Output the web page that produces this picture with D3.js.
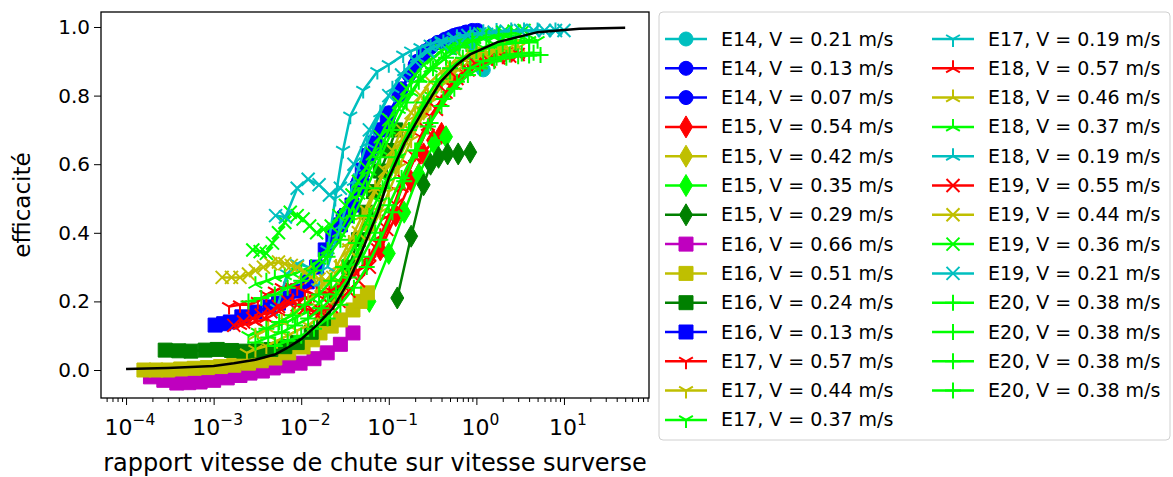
<!DOCTYPE html>
<html>
<head>
<meta charset="utf-8">
<script src="https://cdn.jsdelivr.net/npm/d3@7"></script>
<style>
body { margin: 0; background: #fff; }
text { font-family: "DejaVu Sans", sans-serif; fill: #000; }
</style>
</head>
<body>
<svg width="1173" height="477"></svg>
<script>
// --- data: [ratio, efficiency] ---
var e14_021 = [[0.55,0.94],[0.85,0.95],[1.2,0.875]];
var e14_013 = [[0.03,0.45],[0.045,0.55],[0.06,0.62],[0.08,0.7],[0.1,0.75],[0.13,0.8],[0.17,0.86],[0.21,0.9],[0.26,0.93],[0.31,0.945],[0.36,0.955],[0.43,0.963],[0.5,0.97],[0.6,0.978],[0.75,0.985],[0.88,0.988],[1.03,0.99]];
var e14_007 = [[0.05,0.55],[0.07,0.65],[0.1,0.74],[0.14,0.82],[0.2,0.89],[0.25,0.92],[0.3,0.94],[0.37,0.955],[0.45,0.965],[0.55,0.975],[0.65,0.98],[0.78,0.985],[0.9,0.99]];
var e15_054 = [[0.08,0.35],[0.12,0.45],[0.18,0.55],[0.25,0.63],[0.32,0.67],[0.4,0.69]];
var e15_042 = [[0.03,0.25],[0.06,0.42],[0.12,0.6],[0.25,0.76],[0.5,0.86],[1,0.91],[2,0.93]];
var e15_035 = [[0.06,0.2],[0.1,0.34],[0.15,0.46],[0.22,0.57],[0.33,0.66],[0.45,0.68]];
var e15_029 = [[0.125,0.21],[0.18,0.39],[0.25,0.54],[0.3,0.6],[0.37,0.62],[0.47,0.63],[0.62,0.63],[0.85,0.635]];
var e16_066 = [[1.9e-4,-0.02],[2.7e-4,-0.03],[3.8e-4,-0.038],[5.2e-4,-0.037],[7e-4,-0.035],[1e-3,-0.03],[1.43e-3,-0.023],[2e-3,-0.016],[2.6e-3,-0.009],[3.6e-3,-0.003],[4.8e-3,0.006],[7e-3,0.012],[9.7e-3,0.02],[1.4e-2,0.033],[1.98e-2,0.05],[2.8e-2,0.075],[3.9e-2,0.108]];
var e16_051 = [[1.6e-4,0.0],[2.2e-4,0.0],[3e-4,0.0],[4.2e-4,0.003],[6e-4,0.005],[8.5e-4,0.007],[1.2e-3,0.01],[1.7e-3,0.014],[2.5e-3,0.02],[3.5e-3,0.027],[5e-3,0.035],[7.2e-3,0.05],[1.05e-2,0.067],[1.35e-2,0.088],[1.64e-2,0.108],[2.2e-2,0.128],[2.8e-2,0.146],[3.9e-2,0.175],[4.7e-2,0.2],[5.7e-2,0.225]];
var e16_024 = [[2.8e-4,0.058],[4e-4,0.056],[5.5e-4,0.055],[8e-4,0.058],[1.1e-3,0.06],[1.6e-3,0.057],[2.2e-3,0.055],[3.2e-3,0.056],[4.5e-3,0.06],[6.5e-3,0.068],[9e-3,0.08],[1.3e-2,0.11],[1.8e-2,0.15],[2.5e-2,0.22],[3.5e-2,0.3],[4.5e-2,0.38],[5.5e-2,0.46],[6.7e-2,0.52],[8e-2,0.58],[0.1,0.64],[0.12,0.7]];
var e16_013 = [[1.04e-3,0.131],[1.3e-3,0.135],[1.55e-3,0.14],[2.1e-3,0.155],[2.98e-3,0.169],[4.4e-3,0.184],[5.5e-3,0.195],[6.9e-3,0.21],[9e-3,0.23],[1.17e-2,0.257],[1.5e-2,0.3],[1.88e-2,0.35],[2.3e-2,0.39],[2.8e-2,0.423],[3.3e-2,0.45],[3.8e-2,0.481],[4.4e-2,0.53],[4.98e-2,0.583],[5.9e-2,0.625],[7e-2,0.662],[8.2e-2,0.7],[9.6e-2,0.729]];
var e17_057 = [[1.5e-3,0.185],[2e-3,0.19],[2.5e-3,0.19],[3.2e-3,0.2],[4e-3,0.22],[5e-3,0.23],[6e-3,0.24],[7.5e-3,0.245],[9e-3,0.24],[1.1e-2,0.23],[1.4e-2,0.22],[1.8e-2,0.225],[2.2e-2,0.23],[2.8e-2,0.25],[3.5e-2,0.27],[4.5e-2,0.29],[6e-2,0.32],[7.5e-2,0.37],[0.1,0.44],[0.13,0.52],[0.17,0.6],[0.23,0.68],[0.3,0.74],[0.4,0.79],[0.5,0.83],[0.7,0.87],[0.9,0.89],[1.2,0.9],[1.5,0.91],[2,0.915],[2.5,0.92]];
var e17_044 = [[2.4e-3,0.05],[3e-3,0.06],[4e-3,0.07],[5.3e-3,0.085],[7e-3,0.1],[9e-3,0.115],[1.2e-2,0.13],[1.6e-2,0.155],[2e-2,0.18],[2.7e-2,0.22],[3.5e-2,0.27],[4.5e-2,0.33],[6e-2,0.4],[8e-2,0.46],[0.1,0.52],[0.13,0.59],[0.18,0.67],[0.23,0.73],[0.3,0.78],[0.4,0.83],[0.5,0.86],[0.7,0.885],[0.9,0.9],[1.2,0.915],[1.6,0.93],[2.2,0.935],[3,0.94]];
var e17_037 = [[2.5e-3,0.1],[3.2e-3,0.11],[4e-3,0.12],[5.5e-3,0.13],[7e-3,0.14],[9e-3,0.155],[1.2e-2,0.17],[1.6e-2,0.195],[2e-2,0.22],[2.7e-2,0.26],[3.5e-2,0.3],[4.5e-2,0.35],[6e-2,0.42],[8e-2,0.49],[0.1,0.55],[0.13,0.62],[0.18,0.7],[0.23,0.76],[0.3,0.8],[0.4,0.84],[0.5,0.87],[0.7,0.9],[0.9,0.92],[1.2,0.94],[1.6,0.95],[2.2,0.955],[3,0.96],[4,0.96],[5,0.96]];
var e17_019 = [[5.3e-3,0.18],[6.9e-3,0.28],[9e-3,0.31],[1.2e-2,0.3],[1.56e-2,0.24],[2e-2,0.35],[2.45e-2,0.5],[3e-2,0.64],[3.63e-2,0.74],[5.1e-2,0.815],[7.4e-2,0.87],[0.1,0.89],[0.146,0.918],[0.18,0.93],[0.23,0.94],[0.3,0.95],[0.4,0.96],[0.55,0.97],[0.7,0.975],[1,0.98],[1.3,0.985]];
var e18_057 = [[2e-3,0.13],[3e-3,0.14],[4e-3,0.15],[5.5e-3,0.17],[8e-3,0.2],[1.1e-2,0.21],[1.5e-2,0.22],[2.1e-2,0.23],[3e-2,0.25],[4.2e-2,0.28],[6e-2,0.33],[8e-2,0.39],[0.1,0.45],[0.14,0.53],[0.2,0.62],[0.28,0.71],[0.4,0.78],[0.56,0.83],[0.8,0.87],[1.1,0.89],[1.5,0.91],[2.1,0.915],[3,0.92]];
var e18_046 = [[3e-3,0.1],[4.2e-3,0.12],[6e-3,0.14],[8.5e-3,0.17],[1.2e-2,0.2],[1.7e-2,0.24],[2.5e-2,0.3],[3.5e-2,0.37],[5e-2,0.45],[7e-2,0.53],[0.1,0.6],[0.14,0.67],[0.2,0.74],[0.28,0.8],[0.4,0.85],[0.56,0.88],[0.8,0.91],[1.1,0.92],[1.5,0.93],[2.1,0.935],[3,0.94]];
var e18_037 = [[3e-3,0.25],[4e-3,0.26],[5e-3,0.27],[6.5e-3,0.275],[8e-3,0.28],[1e-2,0.29],[1.3e-2,0.3],[1.6e-2,0.32],[2e-2,0.35],[2.7e-2,0.4],[3.5e-2,0.45],[4.5e-2,0.51],[6e-2,0.58],[8e-2,0.64],[0.1,0.7],[0.13,0.76],[0.18,0.81],[0.23,0.85],[0.3,0.88],[0.4,0.91],[0.5,0.93],[0.7,0.95],[0.9,0.96],[1.2,0.965],[1.6,0.97],[2.2,0.972],[3,0.975]];
var e18_019 = [[0.02,0.3],[0.028,0.42],[0.04,0.55],[0.056,0.66],[0.08,0.75],[0.11,0.82],[0.15,0.87],[0.21,0.91],[0.3,0.94],[0.42,0.955],[0.6,0.97],[0.85,0.978],[1.2,0.985],[1.7,0.988],[2.5,0.99],[3.5,0.99],[5,0.99],[8,0.99]];
var e19_055 = [[1.7e-3,0.13],[2.2e-3,0.14],[2.8e-3,0.15],[3.5e-3,0.16],[4.5e-3,0.17],[5.5e-3,0.185],[7e-3,0.2],[9e-3,0.19],[1.1e-2,0.18],[1.4e-2,0.17],[1.7e-2,0.17],[2.2e-2,0.185],[2.7e-2,0.2],[3.5e-2,0.23],[4.5e-2,0.26],[6e-2,0.3],[7.5e-2,0.35],[9.5e-2,0.41],[0.12,0.48],[0.15,0.55],[0.2,0.62],[0.27,0.7],[0.35,0.76],[0.45,0.81],[0.6,0.85],[0.8,0.875],[1,0.89],[1.4,0.9],[1.8,0.91],[2.4,0.915],[3,0.92]];
var e19_044 = [[1.25e-3,0.27],[1.6e-3,0.27],[2e-3,0.27],[2.5e-3,0.28],[3e-3,0.29],[3.7e-3,0.3],[4.5e-3,0.31],[5.5e-3,0.315],[6.5e-3,0.31],[7.7e-3,0.305],[9e-3,0.3],[1.1e-2,0.285],[1.3e-2,0.27],[1.6e-2,0.265],[1.9e-2,0.26],[2.3e-2,0.27],[2.8e-2,0.3],[3.5e-2,0.35],[4.5e-2,0.4],[5.6e-2,0.46],[7e-2,0.52],[9e-2,0.58],[0.11,0.64],[0.14,0.7],[0.18,0.75],[0.23,0.8],[0.3,0.84],[0.4,0.87],[0.5,0.89],[0.7,0.91],[0.9,0.92],[1.2,0.925],[1.6,0.93],[2.5,0.93]];
var e19_036 = [[2.8e-3,0.35],[3.4e-3,0.345],[4e-3,0.34],[4.7e-3,0.37],[5.5e-3,0.4],[6.5e-3,0.43],[7.5e-3,0.46],[9e-3,0.45],[1.05e-2,0.44],[1.25e-2,0.42],[1.5e-2,0.4],[1.8e-2,0.41],[2.2e-2,0.42],[2.7e-2,0.45],[3.2e-2,0.48],[3.8e-2,0.51],[4.5e-2,0.55],[5.5e-2,0.59],[6.5e-2,0.63],[8e-2,0.68],[0.1,0.73],[0.13,0.78],[0.16,0.82],[0.2,0.86],[0.25,0.89],[0.32,0.91],[0.4,0.93],[0.55,0.95],[0.7,0.96],[0.95,0.97],[1.2,0.98],[1.6,0.982],[2,0.985],[2.7,0.988],[3.5,0.99]];
var e19_021 = [[5.1e-3,0.45],[6.6e-3,0.446],[9e-3,0.53],[1.2e-2,0.556],[1.6e-2,0.54],[2.1e-2,0.51],[2.8e-2,0.53],[4e-2,0.6],[6e-2,0.7],[0.1,0.8],[0.14,0.86],[0.2,0.9],[0.28,0.93],[0.4,0.95],[0.56,0.965],[0.8,0.975],[1.1,0.98],[1.6,0.985],[2.2,0.988],[3.2,0.99],[4.5,0.99],[6,0.99],[8,0.99],[10,0.99]];
var e20_a = [[3e-3,0.08],[4.2e-3,0.095],[6e-3,0.11],[8.5e-3,0.13],[1.2e-2,0.15],[1.7e-2,0.18],[2.5e-2,0.22],[3.5e-2,0.27],[5e-2,0.33],[7e-2,0.4],[0.1,0.48],[0.14,0.56],[0.2,0.64],[0.28,0.71],[0.4,0.77],[0.56,0.82],[0.8,0.86],[1.1,0.88],[1.6,0.9],[2.2,0.91],[3,0.915],[4,0.917],[5.4,0.918]];
var e20_b = [[4e-3,0.12],[5.6e-3,0.14],[8e-3,0.16],[1.1e-2,0.19],[1.6e-2,0.22],[2.2e-2,0.26],[3e-2,0.3],[4.2e-2,0.37],[6e-2,0.45],[8.5e-2,0.53],[0.12,0.62],[0.17,0.7],[0.25,0.78],[0.35,0.84],[0.5,0.88],[0.7,0.91],[1,0.93],[1.4,0.94],[2,0.95],[2.8,0.953],[4,0.955]];
var e20_c = [[2.5e-3,0.2],[3.5e-3,0.21],[5e-3,0.22],[7e-3,0.24],[1e-2,0.26],[1.4e-2,0.29],[2e-2,0.33],[2.8e-2,0.38],[4e-2,0.45],[5.6e-2,0.53],[8e-2,0.62],[0.11,0.7],[0.16,0.78],[0.22,0.84],[0.32,0.88],[0.45,0.91],[0.64,0.94],[0.9,0.96],[1.3,0.97],[1.8,0.975],[2.5,0.98]];
var e20_d = [[5e-3,0.07],[7e-3,0.085],[1e-2,0.1],[1.4e-2,0.12],[2e-2,0.15],[2.8e-2,0.19],[4e-2,0.24],[5.6e-2,0.3],[8e-2,0.38],[0.11,0.46],[0.15,0.55],[0.21,0.64],[0.3,0.72],[0.42,0.79],[0.6,0.84],[0.85,0.88],[1.2,0.9],[1.7,0.91],[2.4,0.92],[3.3,0.923],[4.5,0.925]];

// fitted curve (black)
var fitX = [1e-4,3e-4,1e-3,1.7e-3,3e-3,5e-3,7e-3,1e-2,1.5e-2,2.3e-2,3.5e-2,5e-2,7.5e-2,0.1,0.15,0.25,0.39,0.6,0.85,1.74,5,15,50];
var fitY = [0.003,0.006,0.012,0.02,0.03,0.045,0.065,0.09,0.13,0.18,0.26,0.35,0.46,0.56,0.66,0.76,0.84,0.89,0.92,0.956,0.985,0.995,0.998];

var labels = ["E14, V = 0.21 m/s","E14, V = 0.13 m/s","E14, V = 0.07 m/s",
  "E15, V = 0.54 m/s","E15, V = 0.42 m/s","E15, V = 0.35 m/s","E15, V = 0.29 m/s",
  "E16, V = 0.66 m/s","E16, V = 0.51 m/s","E16, V = 0.24 m/s","E16, V = 0.13 m/s",
  "E17, V = 0.57 m/s","E17, V = 0.44 m/s","E17, V = 0.37 m/s","E17, V = 0.19 m/s",
  "E18, V = 0.57 m/s","E18, V = 0.46 m/s","E18, V = 0.37 m/s","E18, V = 0.19 m/s",
  "E19, V = 0.55 m/s","E19, V = 0.44 m/s","E19, V = 0.36 m/s","E19, V = 0.21 m/s",
  "E20, V = 0.38 m/s","E20, V = 0.38 m/s","E20, V = 0.38 m/s","E20, V = 0.38 m/s"];
var seriesData = [e14_021,e14_013,e14_007,e15_054,e15_042,e15_035,e15_029,
  e16_066,e16_051,e16_024,e16_013,e17_057,e17_044,e17_037,e17_019,
  e18_057,e18_046,e18_037,e18_019,e19_055,e19_044,e19_036,e19_021,
  e20_a,e20_b,e20_c,e20_d];

var yTicks = [0.0, 0.2, 0.4, 0.6, 0.8, 1.0];
var xTicks = [-4, -3, -2, -1, 0, 1];

// styles (matplotlib-ish colours)
var C = {c: "#00bfbf", b: "#0000ff", r: "#ff0000", y: "#bfbf00", l: "#00ff00", g: "#008000", m: "#bf00bf"};
var colors = ["c","b","b","r","y","l","g","m","y","g","b","r","y","l","c","r","y","l","c","r","y","l","c","l","l","l","l"];
var markers = ["o","o","o","d","d","d","d","s","s","s","s","1","1","1","1","2","2","2","2","x","x","x","x","+","+","+","+"];

function markerPath(t) {
	if (t == "o") return d3.symbol(d3.symbolCircle, Math.PI * 49)();
	if (t == "s") return "M-7,-7H7V7H-7Z";
	if (t == "d") return "M0,-11L6.5,0L0,11L-6.5,0Z";
	if (t == "1") return "M0,0V8M0,0L-6.9,-4M0,0L6.9,-4";
	if (t == "2") return "M0,0V-8M0,0L-6.9,4M0,0L6.9,4";
	if (t == "x") return "M-6.5,-6.5L6.5,6.5M-6.5,6.5L6.5,-6.5";
	return "M-8,0H8M0,-8V8";
}
function isFilled(t) { return t == "o" || t == "s" || t == "d"; }

var svg = d3.select("svg");
var mLeft = 101, mRight = 649, mTop = 12, mBottom = 398;

var x = d3.scaleLog()
		.domain([Math.pow(10, -4.286), Math.pow(10, 1.971)])
		.range([mLeft, mRight]);
var y = d3.scaleLinear()
		.domain([-0.0816, 1.0437])
		.range([mBottom, mTop]);

var line = d3.line()
		.x(function(d) { return x(d[0]); })
		.y(function(d) { return y(d[1]); });

var plot = svg.append("g");

seriesData.forEach(function(data, i) {
	var col = C[colors[i]], mk = markers[i];
	var g = plot.append("g");
	g.append("path")
		.attr("d", line(data))
		.attr("fill", "none")
		.attr("stroke", col)
		.attr("stroke-width", 2.5)
		.attr("stroke-linejoin", "round");
	g.selectAll("path.mk")
		.data(data)
		.enter().append("path")
			.attr("class", "mk")
			.attr("transform", function(d) { return "translate(" + x(d[0]) + "," + y(d[1]) + ")"; })
			.attr("d", markerPath(mk))
			.attr("fill", isFilled(mk) ? col : "none")
			.attr("stroke", col)
			.attr("stroke-width", isFilled(mk) ? 1 : 2);
});

// black fitted curve on top
plot.append("path")
	.attr("d", line(fitX.map(function(v, i) { return [v, fitY[i]]; })))
	.attr("fill", "none")
	.attr("stroke", "#000")
	.attr("stroke-width", 2.5);

// axes
var xAxis = d3.axisBottom(x)
		.tickValues(d3.range(-4, 2).map(function(e) { return Math.pow(10, e); }))
		.tickSize(7)
		.tickFormat("");
svg.append("g")
	.attr("transform", "translate(0," + mBottom + ")")
	.call(xAxis)
	.call(function(g) { g.select(".domain").remove(); });

// minor ticks
var minors = [];
for (var e = -5; e <= 1; e++) {
	for (var k = 2; k <= 9; k++) {
		var v = k * Math.pow(10, e);
		if (x(v) >= mLeft && x(v) <= mRight) minors.push(v);
	}
}
svg.append("g")
	.attr("transform", "translate(0," + mBottom + ")")
	.call(d3.axisBottom(x).tickValues(minors).tickSize(4).tickFormat(""))
	.call(function(g) { g.select(".domain").remove(); });

var xl = svg.append("g");
xTicks.forEach(function(e) {
	var t = xl.append("text")
		.attr("x", x(Math.pow(10, e)) + 4)
		.attr("y", 435)
		.attr("text-anchor", "middle")
		.style("font-size", "22px");
	t.append("tspan").text("10");
	t.append("tspan").attr("dy", -10).style("font-size", "15.5px").text(e < 0 ? "\u2212" + (-e) : "" + e);
});

svg.append("g")
	.attr("transform", "translate(" + mLeft + ",0)")
	.call(d3.axisLeft(y).tickValues(yTicks).tickSize(7).tickPadding(4).tickFormat(d3.format(".1f")))
	.call(function(g) { g.select(".domain").remove(); })
	.call(function(g) { g.selectAll("text").style("font-size", "20px").attr("font-family", null); });

svg.append("rect")
	.attr("x", mLeft).attr("y", mTop)
	.attr("width", mRight - mLeft).attr("height", mBottom - mTop)
	.attr("fill", "none").attr("stroke", "#000").attr("stroke-width", 1.3);

svg.append("text")
	.attr("x", (mLeft + mRight) / 2)
	.attr("y", 471)
	.attr("text-anchor", "middle")
	.style("font-size", "24px")
	.text("rapport vitesse de chute sur vitesse surverse");

svg.append("text")
	.attr("transform", "translate(30," + ((mTop + mBottom) / 2) + ") rotate(-90)")
	.attr("text-anchor", "middle")
	.style("font-size", "23px")
	.text("efficacité");

// legend
var leg = svg.append("g");
leg.append("rect")
	.attr("x", 659).attr("y", 12)
	.attr("width", 511).attr("height", 428)
	.attr("rx", 4)
	.attr("fill", "#fff").attr("fill-opacity", 0.8)
	.attr("stroke", "#d0d0d0");

labels.forEach(function(lab, i) {
	var col = i < 14 ? 0 : 1, row = i % 14;
	var lx = col ? 932 : 665, tx = col ? 988 : 721;
	var ly = 39 + row * 29.3;
	var c = C[colors[i]], mk = markers[i];
	leg.append("line")
		.attr("x1", lx).attr("x2", lx + 42)
		.attr("y1", ly).attr("y2", ly)
		.attr("stroke", c).attr("stroke-width", 2.5);
	leg.append("path")
		.attr("transform", "translate(" + (lx + 21) + "," + ly + ")")
		.attr("d", markerPath(mk))
		.attr("fill", isFilled(mk) ? c : "none")
		.attr("stroke", c)
		.attr("stroke-width", isFilled(mk) ? 1 : 2);
	leg.append("text")
		.attr("x", tx).attr("y", ly + 6.5)
		.style("font-size", "19px")
		.text(lab);
});
</script>
</body>
</html>
